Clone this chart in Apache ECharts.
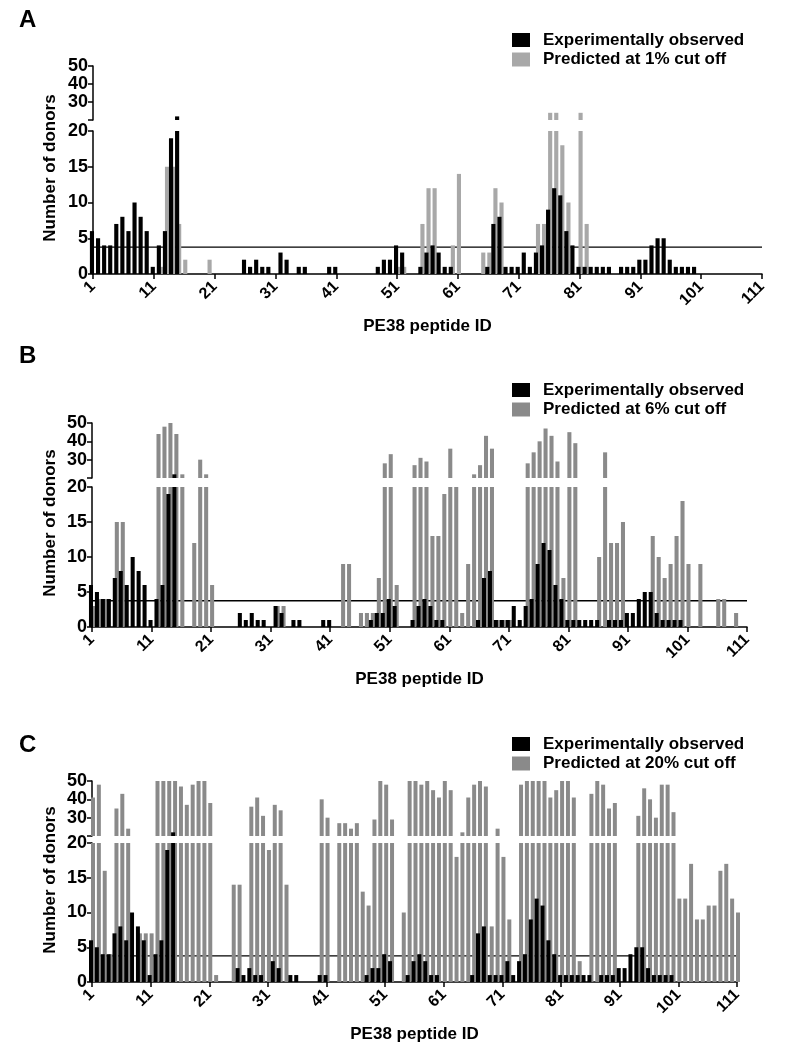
<!DOCTYPE html>
<html><head><meta charset="utf-8">
<script src="https://cdn.jsdelivr.net/npm/echarts@6/dist/echarts.min.js"></script>
<style>html,body{margin:0;padding:0;background:#fff}#c{width:787px;height:1050px}</style>
</head><body><div id="c"></div>
<script>
// ---- data ----
const peptideIds = Array.from({length: 111}, (_, i) => i + 1);
const xTickLabels = [1, 11, 21, 31, 41, 51, 61, 71, 81, 91, 101, 111];
const yTicksLower = [0, 5, 10, 15, 20];
const yTicksUpper = [30, 40, 50];
const thresholdValue = 3.75;

const observed = [
  6,5,4,4,7,8,6,10,8,6,
  1,4,6,19,22,0,0,0,0,0,
  0,0,0,0,0,2,1,2,1,1,
  0,3,2,0,1,1,0,0,0,1,
  1,0,0,0,0,0,0,1,2,2,
  4,3,0,0,1,3,4,3,1,1,
  0,0,0,0,0,1,7,8,1,1,
  1,3,1,3,4,9,12,11,6,4,
  1,1,1,1,1,1,0,1,1,1,
  2,2,4,5,5,2,1,1,1,1,
  0,0,0,0,0,0,0,0,0,0,0];

const predicted1 = [
  0,0,0,0,0,0,0,0,0,0,
  0,1,15,15,7,2,0,0,0,2,
  0,0,0,0,0,0,0,0,0,0,
  0,0,0,0,0,0,0,0,0,0,
  0,0,0,0,0,0,0,0,0,0,
  1,1,0,0,7,12,12,0,0,4,
  14,0,0,0,3,3,12,10,0,0,
  0,0,0,7,7,24,24,18,10,0,
  24,7,0,0,0,0,0,0,0,0,
  0,0,0,0,0,0,0,0,0,0,
  0,0,0,0,0,0,0,0,0,0,0];

const predicted6 = [
  3,4,4,0,15,15,0,0,0,0,
  0,44,48,50,44,22,0,12,30,22,
  6,0,0,0,0,0,0,0,0,0,
  0,3,3,0,0,0,0,0,0,0,
  0,0,9,9,0,2,2,2,7,28,
  33,6,0,0,27,31,29,13,13,19,
  36,20,2,9,22,27,43,36,1,1,
  1,0,0,28,34,40,47,43,29,7,
  45,39,0,0,0,10,34,12,12,15,
  0,0,0,0,13,10,7,9,13,18,
  9,0,9,0,0,4,4,0,2,0,0];

const predicted20 = [
  41,48,16,4,35,43,24,0,7,7,
  7,50,50,50,50,47,37,48,50,50,
  38,1,0,0,14,14,0,36,41,31,
  19,37,34,14,0,0,0,0,0,40,
  30,0,27,27,24,27,13,11,29,50,
  48,29,0,10,50,50,48,50,45,41,
  50,45,18,22,41,48,50,47,8,24,
  18,9,0,48,50,50,50,50,41,45,
  50,50,41,3,0,43,50,48,35,38,
  0,0,0,31,46,40,30,48,48,33,
  12,12,17,9,9,11,11,16,17,12,10];

const observedName = 'Experimentally observed';
const predictedNames = ['Predicted at 1% cut off', 'Predicted at 6% cut off', 'Predicted at 20% cut off'];
const panelLetters = ['A', 'B', 'C'];

// ---- layout ----
const FONT = '"Liberation Sans", Arial, sans-serif';
const layouts = [
  {pred: predicted1, grey: '#a8a8a8', left: 93, right: 762, upTop: 66, upH: 54, lowTop: 131, lowH: 143, legendTop: 31.5, letterY: 20, yTitleY: 168},
  {pred: predicted6, grey: '#8a8a8a', left: 92, right: 747, upTop: 423, upH: 55, lowTop: 487, lowH: 140, legendTop: 381.5, letterY: 356, yTitleY: 523},
  {pred: predicted20, grey: '#8a8a8a', left: 92, right: 737, upTop: 781, upH: 55, lowTop: 843, lowH: 139, legendTop: 735.5, letterY: 745, yTitleY: 880}
];

const grid = [], xAxis = [], yAxis = [], series = [], legend = [], graphic = [];
const lowerMax = yTicksLower[yTicksLower.length - 1];
const lowerData = arr => arr.map((v, i) => [peptideIds[i], v > 0 ? Math.min(v, lowerMax) : null]);
const upperData = arr => arr.map((v, i) => [peptideIds[i], v > lowerMax ? v : null]);

layouts.forEach((L, k) => {
  const w = L.right - L.left;
  const up = 2 * k, low = 2 * k + 1;
  grid.push({left: L.left, top: L.upTop, width: w, height: L.upH, containLabel: false});
  grid.push({left: L.left, top: L.lowTop, width: w, height: L.lowH, containLabel: false});
  xAxis.push({gridIndex: up, type: 'value', min: xTickLabels[0], max: xTickLabels[xTickLabels.length - 1], show: false});
  xAxis.push({
    gridIndex: low, type: 'value', min: xTickLabels[0], max: xTickLabels[xTickLabels.length - 1], interval: 10,
    axisLine: {lineStyle: {color: '#000', width: 1.5}},
    axisTick: {length: 5, lineStyle: {color: '#000', width: 1.5}},
    axisLabel: {rotate: 45, margin: 10, color: '#000', fontSize: 16, fontWeight: 'bold', fontFamily: FONT},
    splitLine: {show: false},
    name: 'PE38 peptide ID', nameLocation: 'middle', nameGap: 44,
    nameTextStyle: {color: '#000', fontSize: 17, fontWeight: 'bold', fontFamily: FONT}
  });
  yAxis.push({
    gridIndex: up, type: 'value', min: lowerMax, max: yTicksUpper[yTicksUpper.length - 1], interval: 10,
    axisLine: {show: true, lineStyle: {color: '#000', width: 1.5}},
    axisTick: {show: true, length: 5, lineStyle: {color: '#000', width: 1.5}},
    axisLabel: {margin: 5, color: '#000', fontSize: 18, fontWeight: 'bold', fontFamily: FONT,
      formatter: v => yTicksUpper.includes(v) ? String(v) : ''},
    splitLine: {show: false}
  });
  yAxis.push({
    gridIndex: low, type: 'value', min: yTicksLower[0], max: lowerMax, interval: 5,
    axisLine: {show: true, lineStyle: {color: '#000', width: 1.5}},
    axisTick: {show: true, length: 5, lineStyle: {color: '#000', width: 1.5}},
    axisLabel: {margin: 5, color: '#000', fontSize: 18, fontWeight: 'bold', fontFamily: FONT},
    splitLine: {show: false}
  });
  const barCommon = {type: 'bar', barWidth: '68%', barGap: '-50%', animation: false};
  series.push(Object.assign({}, barCommon, {name: observedName, xAxisIndex: low, yAxisIndex: low, z: 3, clip: false,
    itemStyle: {color: '#000'}, data: lowerData(observed)}));
  series.push(Object.assign({}, barCommon, {name: predictedNames[k], xAxisIndex: low, yAxisIndex: low, z: 2, clip: false,
    itemStyle: {color: L.grey}, data: lowerData(L.pred)}));
  series.push(Object.assign({}, barCommon, {name: observedName, xAxisIndex: up, yAxisIndex: up, z: 3, clip: true,
    itemStyle: {color: '#000'}, data: upperData(observed)}));
  series.push(Object.assign({}, barCommon, {name: predictedNames[k], xAxisIndex: up, yAxisIndex: up, z: 2, clip: true,
    itemStyle: {color: L.grey}, data: upperData(L.pred)}));
  series.push({type: 'line', xAxisIndex: low, yAxisIndex: low, z: 1, symbol: 'none', animation: false, silent: true,
    lineStyle: {color: '#000', width: 1.3},
    data: [[xTickLabels[0], thresholdValue], [xTickLabels[xTickLabels.length - 1], thresholdValue]]});
  legend.push({
    data: [observedName, predictedNames[k]], orient: 'vertical', left: 512, top: L.legendTop, padding: 0,
    itemWidth: 18, itemHeight: 14, itemGap: 2.5, icon: 'rect', selectedMode: false,
    textStyle: {color: '#000', fontSize: 17, fontWeight: 'bold', fontFamily: FONT, padding: [0, 0, 0, 8]}
  });
  graphic.push({type: 'text', left: 19, top: L.letterY - 12,
    style: {text: panelLetters[k], fill: '#000', font: 'bold 24px ' + FONT}});
  graphic.push({type: 'text', x: 50, y: L.yTitleY, rotation: Math.PI / 2,
    style: {text: 'Number of donors', fill: '#000', font: 'bold 17px ' + FONT, align: 'center', verticalAlign: 'middle'}});
});

const chart = echarts.init(document.getElementById('c'), null, {renderer: 'canvas'});
chart.setOption({animation: false, backgroundColor: '#fff', grid, xAxis, yAxis, series, legend, graphic});
</script>
</body></html>
